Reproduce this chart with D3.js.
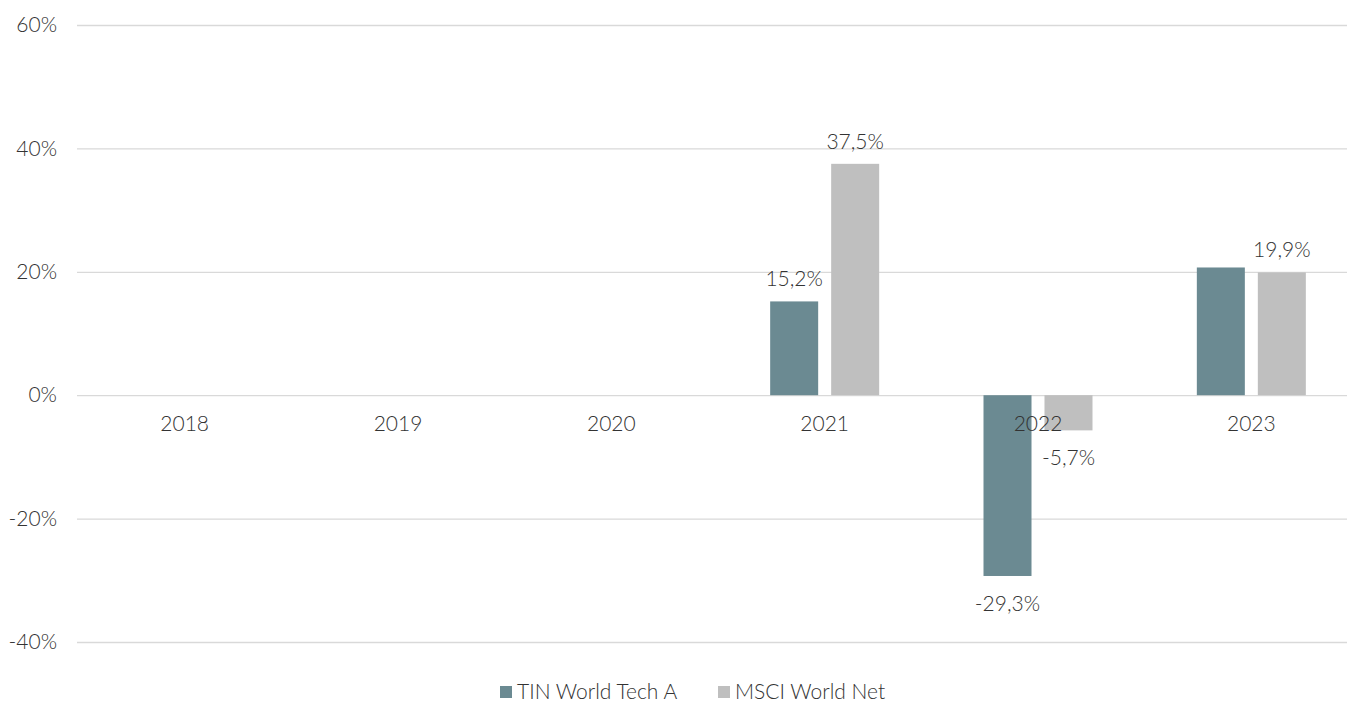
<!DOCTYPE html>
<html>
<head>
<meta charset="utf-8">
<script src="https://cdn.jsdelivr.net/npm/d3@7"></script>
<style>
  body { margin: 0; background: #fff; }
  svg { display: block; font-family: Lato, 'Open Sans', sans-serif; font-weight: 300; }
</style>
</head>
<body>
<svg id="chart"></svg>
<script>
'use strict';

const years = ['2018', '2019', '2020', '2021', '2022', '2023'];
const seriesNames = ['TIN World Tech A', 'MSCI World Net'];
const tinValues = [null, null, null, 15.2, -29.3, 20.7];
const msciValues = [null, null, null, 37.5, -5.7, 19.9];
const tinShowLabel = [false, false, false, true, true, false];
const msciShowLabel = [false, false, false, true, true, true];
const yTicks = [-40, -20, 0, 20, 40, 60];
const COLORS = ['#6b8a92', '#bfbfbf'];
const TEXT = '#333333';

const width = 1348, height = 702;
const margin = { top: 25, right: -10, bottom: 60, left: 78 };

const svg = d3.select('#chart').attr('width', width).attr('height', height);

const y = d3.scaleLinear().domain([-40, 60]).range([642, 25]);
const x0 = d3.scaleBand().domain(years).range([margin.left, width - margin.right]).padding(0);
const groupW = 109;
const x1 = d3.scaleBand().domain(seriesNames)
  .range([x0.bandwidth() / 2 - groupW / 2, x0.bandwidth() / 2 + groupW / 2])
  .paddingInner(0.213).paddingOuter(0);

// gridlines + y labels
const yAxis = (g) =>
  g.call(d3.axisLeft(y).tickValues(yTicks).tickSize(-(width - margin.left)).tickFormat((d) => d + '%'))
    .call((g) => g.select('.domain').remove())
    .call((g) => g.selectAll('.tick line').attr('stroke', '#d9d9d9').attr('stroke-width', 1.3))
    .call((g) => g.selectAll('.tick text')
      .attr('x', -20).attr('fill', TEXT)
      .style('font-size', '21px').style('font-family', 'Lato, sans-serif').style('font-weight', 300));

svg.append('g').attr('transform', `translate(${margin.left - 1},0)`).call(yAxis);

const rows = years.map((yr, i) => ({
  year: yr,
  vals: [
    { key: seriesNames[0], v: tinValues[i], show: tinShowLabel[i], c: COLORS[0] },
    { key: seriesNames[1], v: msciValues[i], show: msciShowLabel[i], c: COLORS[1] },
  ],
}));

const groups = svg.append('g').selectAll('g')
  .data(rows).enter().append('g')
  .attr('transform', (d) => `translate(${x0(d.year)},0)`);

const bars = groups.selectAll('rect')
  .data((d) => d.vals.filter((e) => e.v !== null))
  .enter();

bars.append('rect')
  .attr('x', (d) => x1(d.key))
  .attr('width', x1.bandwidth())
  .attr('y', (d) => y(Math.max(0, d.v)))
  .attr('height', (d) => Math.abs(y(d.v) - y(0)))
  .attr('fill', (d) => d.c);

bars.filter((d) => d.show).append('text')
  .attr('x', (d) => x1(d.key) + x1.bandwidth() / 2)
  .attr('y', (d) => d.v >= 0 ? y(d.v) - 15 : y(d.v) + 35)
  .attr('text-anchor', 'middle')
  .attr('fill', TEXT)
  .style('font-size', '21px')
  .text((d) => d.v.toFixed(1).replace('.', ',') + '%');

// category labels
svg.append('g').selectAll('text')
  .data(years).enter().append('text')
  .attr('x', (d) => x0(d) + x0.bandwidth() / 2)
  .attr('y', y(0) + 36)
  .attr('text-anchor', 'middle')
  .attr('fill', TEXT)
  .style('font-size', '21px')
  .text((d) => d);

// legend
const legendX = [500, 718];
const legend = svg.append('g').selectAll('g')
  .data(seriesNames).enter().append('g')
  .attr('transform', (d, i) => `translate(${legendX[i]},686)`);
legend.append('rect').attr('width', 12).attr('height', 12).attr('fill', (d, i) => COLORS[i]);
legend.append('text')
  .attr('x', 17).attr('y', 13)
  .attr('fill', TEXT)
  .style('font-size', '21px')
  .text((d) => d);
</script>
</body>
</html>
